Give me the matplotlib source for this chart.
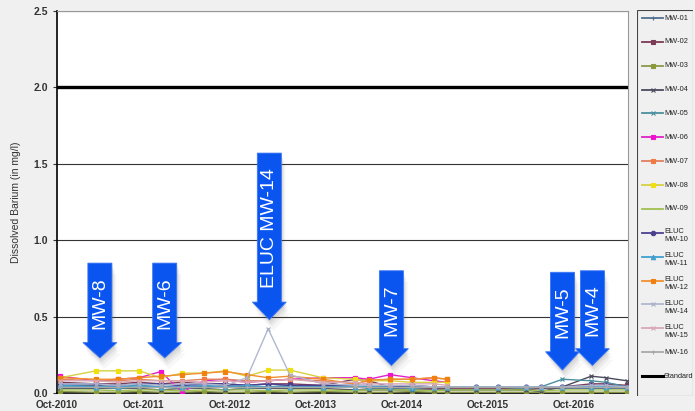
"""
Dissolved Barium by monitoring well
"""

import numpy as np
import pandas as pd
import matplotlib
matplotlib.use("Agg")
import matplotlib.pyplot as plt
import matplotlib.dates as mdates
from matplotlib.patches import Polygon, Rectangle
from matplotlib.lines import Line2D

plt.rcParams["font.family"] = ["Liberation Sans", "DejaVu Sans"]

# ---- data -------------------------------------------------------------
dates = ["2010-10-15", "2011-03-15", "2011-06-15", "2011-09-15", "2011-12-15",
         "2012-03-15", "2012-06-15", "2012-09-15", "2012-12-15", "2013-03-15",
         "2013-06-15", "2013-11-01", "2014-03-20", "2014-05-15", "2014-08-15",
         "2014-11-15", "2015-02-15", "2015-04-15", "2015-08-15", "2015-11-15",
         "2016-03-15", "2016-05-15", "2016-08-15", "2016-12-15", "2017-02-15",
         "2017-05-15"]

mw01 = [0.05, 0.05, 0.04, 0.05, 0.04, 0.05, 0.04, 0.05, 0.04, 0.04, 0.05, 0.04, 0.04,
        0.03, 0.03, 0.03, 0.03, 0.03, 0.03, 0.03, 0.03, 0.03, 0.03, 0.03, 0.03, 0.03]
mw02 = [0.07, 0.06, 0.06, 0.07, 0.06, 0.07, 0.06, 0.06, 0.05, 0.06, 0.06, 0.05, 0.09,
        0.08, 0.04, 0.03, 0.03, 0.03, 0.03, 0.03, 0.02, 0.03, 0.04, 0.06, 0.06, 0.05]
mw03 = [0.01, 0.005, 0.005, 0.01, 0.005, 0.005, 0.01, 0.005, 0.005, 0.01, 0.005, 0.01, 0.005,
        0.005, 0.005, 0.01, 0.005, 0.005, 0.005, 0.005, 0.005, 0.005, 0.005, 0.005, 0.005, 0.005]
mw04 = [0.03, 0.03, 0.03, 0.03, 0.02, 0.03, 0.03, 0.02, 0.03, 0.03, 0.03, 0.03, 0.02,
        0.02, 0.02, 0.02, 0.02, 0.02, 0.02, 0.02, 0.02, 0.01, 0.04, 0.11, 0.10, 0.08]
mw05 = [0.04, 0.04, 0.03, 0.04, 0.04, 0.03, 0.04, 0.04, 0.03, 0.04, 0.04, 0.04, 0.05,
        0.04, 0.05, 0.04, 0.04, 0.04, 0.04, 0.04, 0.03, 0.04, 0.09, 0.08, 0.07, 0.04]
mw06 = [0.11, 0.08, 0.09, 0.10, 0.14, 0.005, 0.08, 0.09, 0.07, 0.08, 0.09, 0.10, 0.10,
        0.09, 0.12, 0.10, 0.08, 0.07, None, None, None, None, None, None, None, None]
mw07 = [0.09, 0.08, 0.08, 0.09, 0.08, 0.08, 0.09, 0.09, 0.08, 0.08, 0.09, 0.08, 0.06,
        0.08, 0.09, 0.09, 0.10, 0.09, None, None, None, None, None, None, None, None]
mw08 = [0.10, 0.145, 0.145, 0.145, 0.10, 0.13, 0.13, 0.145, 0.11, 0.15, 0.15, 0.10, 0.09,
        0.08, 0.08, 0.07, 0.07, 0.07, None, None, None, None, None, None, None, None]
mw09 = [0.02, 0.02, 0.015, 0.02, 0.02, 0.015, 0.02, 0.02, 0.02, 0.015, 0.02, 0.02, 0.015,
        0.02, 0.02, 0.02, 0.015, 0.02, 0.02, 0.02, 0.02, 0.015, 0.02, 0.02, 0.02, 0.02]
eluc10 = [0.06, 0.06, 0.05, 0.06, 0.06, 0.05, 0.06, 0.06, 0.05, 0.06, 0.05, 0.05, 0.05,
          0.05, 0.04, 0.05, 0.04, 0.04, 0.04, 0.04, 0.04, 0.04, 0.04, 0.05, 0.05, 0.04]
eluc11 = [0.05, 0.04, 0.04, 0.05, 0.04, 0.04, 0.05, 0.04, 0.05, 0.04, 0.04, 0.04, 0.04,
          0.04, 0.04, 0.03, 0.04, 0.04, 0.04, 0.04, 0.04, 0.04, 0.04, 0.04, 0.04, 0.04]
eluc12 = [0.10, 0.09, 0.09, 0.10, 0.11, 0.12, 0.13, 0.14, 0.12, 0.10, 0.11, 0.09, 0.06,
          0.085, 0.09, 0.09, 0.10, 0.09, None, None, None, None, None, None, None, None]
eluc14 = [0.06, 0.06, 0.05, 0.06, 0.05, 0.06, 0.06, 0.05, 0.10, 0.42, 0.12, 0.06, 0.05,
          0.05, 0.05, 0.05, 0.04, 0.04, 0.04, 0.04, 0.04, 0.04, 0.04, 0.05, 0.05, 0.04]
eluc15 = [0.08, 0.08, 0.07, 0.08, 0.08, 0.08, 0.07, 0.08, 0.07, 0.08, 0.09, 0.07, 0.07,
          0.06, 0.06, 0.06, 0.06, 0.05, None, None, None, None, None, None, None, None]
mw16 = [0.04, 0.04, 0.04, 0.04, 0.04, 0.04, 0.04, 0.04, 0.04, 0.04, 0.04, 0.04, 0.04,
        0.04, 0.04, 0.04, 0.04, 0.04, 0.04, 0.04, 0.04, 0.04, 0.04, 0.04, 0.04, 0.04]
standard = 2.0

labels = ["MW-01", "MW-02", "MW-03", "MW-04", "MW-05", "MW-06", "MW-07", "MW-08", "MW-09",
          "ELUC\nMW-10", "ELUC\nMW-11", "ELUC\nMW-12", "ELUC\nMW-14", "ELUC\nMW-15", "MW-16"]
series = [mw01, mw02, mw03, mw04, mw05, mw06, mw07, mw08, mw09,
          eluc10, eluc11, eluc12, eluc14, eluc15, mw16]

# callouts: label, date, top of arrow, base of head, tip
callouts = [("MW-8", "2011-04-01", 0.85, 0.33, 0.23),
            ("MW-6", "2012-01-01", 0.85, 0.33, 0.23),
            ("ELUC MW-14", "2013-03-20", 1.57, 0.595, 0.48),
            ("MW-7", "2014-08-20", 0.80, 0.29, 0.18),
            ("MW-5", "2016-08-15", 0.79, 0.27, 0.15),
            ("MW-4", "2016-12-20", 0.80, 0.29, 0.18)]

# ---- styles -----------------------------------------------------------
line_colors = ["#52708f", "#7a3b56", "#8a9a48", "#4a4a5e", "#4a8f9f", "#e020c8", "#e08060",
               "#d8d040", "#a0c050", "#4a4090", "#40a0d0", "#f09030", "#b0b8d0", "#d8a8b8",
               "#a8a8a8"]
marker_colors = ["#52708f", "#7a3b56", "#8a9a3a", "#4a4a5e", "#4a8f9f", "#f010d0", "#f07a40",
                 "#f0e010", "#a0c050", "#4a4090", "#40a0d0", "#f08010", "#a8b0c8", "#d8a8b8",
                 "#a8a8a8"]
markers = ["+", "s", "s", "x", "x", "s", "s", "s", "", "o", "^", "s", "x", "x", "+"]

x = pd.to_datetime(dates)

fig = plt.figure(figsize=(6.95, 4.11), dpi=100, facecolor="#f0f0f0")
ax = fig.add_axes([57 / 695, 18 / 411, 571 / 695, 382 / 411])
ax.set_facecolor("white")

for vals, c, mc, m in zip(series, line_colors, marker_colors, markers):
    y = np.array(vals, dtype=float)
    ax.plot(x, y, color=c, lw=1.0, marker=m if m else None, ms=3.4,
            markerfacecolor=mc, markeredgecolor=mc, markeredgewidth=0.9, zorder=3)

ax.axhline(standard, color="black", lw=2.4, zorder=4)

ax.set_ylim(0, 2.5)
ax.set_xlim(pd.Timestamp("2010-10-01"), pd.Timestamp("2017-05-20"))
ax.set_yticks([0, 0.5, 1.0, 1.5, 2.0, 2.5])
ax.yaxis.set_major_formatter(plt.FuncFormatter(lambda v, p: f"{v:.1f}"))
ax.xaxis.set_major_locator(mdates.MonthLocator(bymonth=10))
ax.xaxis.set_major_formatter(mdates.DateFormatter("%b-%Y"))
ax.grid(axis="y", color="#333333", lw=0.8)
ax.set_axisbelow(True)
ax.tick_params(axis="y", labelsize=7.5, colors="#333333", length=3, width=0.8)
ax.tick_params(axis="x", labelsize=7.2, colors="#333333", length=0, pad=5)
for lab in ax.get_xticklabels() + ax.get_yticklabels():
    lab.set_fontweight("bold")
for s in ["left", "bottom"]:
    ax.spines[s].set_color("black")
    ax.spines[s].set_linewidth(1.2)
for s in ["top", "right"]:
    ax.spines[s].set_color("#999999")
    ax.spines[s].set_linewidth(0.8)
ax.set_ylabel("Dissolved Barium (in mg/l)", fontsize=7.5, color="#333333", labelpad=9)

# ---- blue callout arrows ---------------------------------------------
body_half = 51   # days
head_half = 72   # days
for text, d, ytop, ybase, ytip in callouts:
    xc = mdates.date2num(pd.Timestamp(d))
    pts = [(xc - body_half, ytop), (xc + body_half, ytop), (xc + body_half, ybase),
           (xc + head_half, ybase), (xc, ytip), (xc - head_half, ybase),
           (xc - body_half, ybase)]
    for k, a in [(6, 0.05), (4, 0.07), (2.5, 0.09), (1.2, 0.10)]:
        shp = [(px + k * 3, py - k * 0.012) for px, py in pts]
        ax.add_patch(Polygon(shp, closed=True, facecolor="#666666", edgecolor="none",
                             alpha=a, zorder=5))
    ax.add_patch(Polygon(pts, closed=True, facecolor="#0a55f0", edgecolor="#3a75f5",
                         lw=0.6, zorder=6))
    ax.text(xc, (ytop + ybase) / 2, text, rotation=90, color="white", fontsize=14,
            ha="center", va="center", zorder=7)

# ---- legend (drawn by hand to keep even spacing) ---------------------
lax = fig.add_axes([637 / 695, 15 / 411, 56 / 695, 386 / 411])
lax.set_xlim(0, 56)
lax.set_ylim(386, 0)
lax.axis("off")
lax.add_patch(Rectangle((0, 0), 56, 386, facecolor="#f0f0f0", edgecolor="#444444", lw=0.8))
ypos = np.linspace(8, 366, len(labels) + 1)
for i, (lab, c, mc, m) in enumerate(zip(labels, line_colors, marker_colors, markers)):
    yy = ypos[i]
    lax.add_line(Line2D([5, 26], [yy, yy], color=c, lw=1.3))
    if m:
        lax.add_line(Line2D([15.5], [yy], color=mc, marker=m, ms=3.2,
                            markerfacecolor=mc, markeredgecolor=mc, markeredgewidth=0.8))
    if "\n" in lab:
        lax.text(27, yy - 4.5, lab, fontsize=5.3, color="#222222", va="top", ha="left",
                 linespacing=1.15)
    else:
        lax.text(27, yy, lab, fontsize=5.3, color="#222222", va="center", ha="left")
yy = ypos[-1]
lax.add_line(Line2D([5, 26], [yy, yy], color="black", lw=2.2))
lax.text(27, yy, "Standard", fontsize=5.3, color="#222222", va="center", ha="left")

fig.savefig("out.png", dpi=100, facecolor=fig.get_facecolor())
print("Saved out.png")
